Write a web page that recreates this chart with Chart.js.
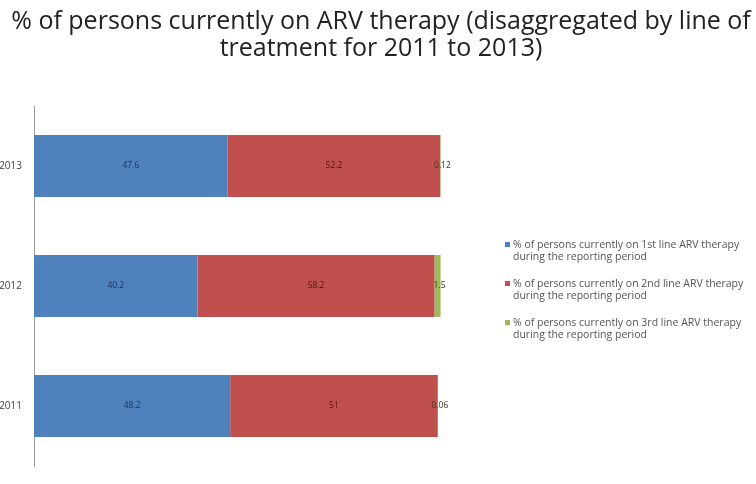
<!DOCTYPE html>
<html>
<head>
<meta charset="utf-8">
<script src="https://cdn.jsdelivr.net/npm/chart.js@4/dist/chart.umd.min.js"></script>
<style>
  html, body { margin: 0; padding: 0; background: #fff; }
  #wrap { position: relative; width: 756px; height: 484px; overflow: hidden; }
  #box { position: absolute; left: -17px; top: 0; width: 790px; height: 484px; }
  #legend { position: absolute; left: 505px; top: 238px; width: 260px; font-family: "Open Sans", sans-serif; font-size: 10.5px; color: #555; white-space: nowrap; }
  #legend .item { position: relative; padding-left: 8px; height: 39px; line-height: 12px; }
  #legend .sw { position: absolute; left: 0; top: 4px; width: 5px; height: 5px; }
</style>
</head>
<body>
<div id="wrap">
  <div id="box"><canvas id="chart"></canvas></div>
  <div id="legend"></div>
</div>
<script>
const years = ["2013", "2012", "2011"];

const firstLine = [47.6, 40.2, 48.2];
const secondLine = [52.2, 58.2, 51.0];
const thirdLine = [0.12, 1.5, 0.06];

const firstLabels = ["47.6", "40.2", "48.2"];
const secondLabels = ["52.2", "58.2", "51"];
const thirdLabels = ["0.12", "1.5", "0.06"];

const titleLines = ["% of persons currently on ARV therapy (disaggregated by line of", "treatment for 2011 to 2013)"];

const seriesNames = [
  ["% of persons currently on 1st line ARV therapy", "during the reporting period"],
  ["% of persons currently on 2nd line ARV therapy", "during the reporting period"],
  ["% of persons currently on 3rd line ARV therapy", "during the reporting period"]
];

const barLabels = {
  id: "barLabels",
  afterDatasetsDraw(chart) {
    const ctx = chart.ctx;
    ctx.save();
    ctx.font = "8.5px 'Open Sans', sans-serif";
    ctx.textAlign = "center";
    ctx.textBaseline = "middle";
    chart.data.datasets.forEach((ds, i) => {
      const meta = chart.getDatasetMeta(i);
      meta.data.forEach((bar, j) => {
        ctx.fillStyle = ds.labelColor;
        const x = (bar.x + bar.base) / 2 + (i === 2 ? 2 : 0);
        ctx.fillText(ds.valueLabels[j], x, bar.y);
      });
    });
    ctx.restore();
  }
};

// title drawn across the whole page, not just the plot box
const pageTitle = {
  id: "pageTitle",
  afterDraw(chart) {
    const ctx = chart.ctx;
    ctx.save();
    ctx.font = "25px 'Open Sans', sans-serif";
    ctx.fillStyle = "#222";
    ctx.textAlign = "center";
    ctx.textBaseline = "middle";
    titleLines.forEach((t, i) => ctx.fillText(t, 398, 22 + i * 27));
    ctx.restore();
  }
};

const chart = new Chart(document.getElementById("chart"), {
  type: "bar",
  data: {
    labels: years,
    datasets: [
      { label: seriesNames[0].join(" "), data: firstLine, valueLabels: firstLabels, backgroundColor: "#4F81BD", labelColor: "#1c3557" },
      { label: seriesNames[1].join(" "), data: secondLine, valueLabels: secondLabels, backgroundColor: "#C0504D", labelColor: "#4a1412" },
      { label: seriesNames[2].join(" "), data: thirdLine, valueLabels: thirdLabels, backgroundColor: "#9BBB59", labelColor: "#3a3a1a" }
    ]
  },
  options: {
    indexAxis: "y",
    responsive: true,
    maintainAspectRatio: false,
    animation: false,
    layout: { padding: { left: 0, right: 332, top: 106, bottom: 6 } },
    datasets: { bar: { categoryPercentage: 1, barPercentage: 0.516 } },
    scales: {
      x: { stacked: true, min: 0, max: 100, display: false },
      y: {
        stacked: true,
        afterFit: (s) => { s.width = 51; },
        grid: { display: true, drawOnChartArea: false, drawTicks: false },
        border: { display: true, color: "#999" },
        ticks: { padding: 12, color: "#444", font: { family: "'Open Sans', sans-serif", size: 10 } }
      }
    },
    plugins: {
      legend: { display: false },
      tooltip: { enabled: false },
      title: { display: false }
    }
  },
  plugins: [barLabels, pageTitle]
});

// legend built from the chart's datasets
const legendEl = document.getElementById("legend");
chart.data.datasets.forEach((ds, i) => {
  const item = document.createElement("div");
  item.className = "item";
  const sw = document.createElement("span");
  sw.className = "sw";
  sw.style.background = ds.backgroundColor;
  item.appendChild(sw);
  seriesNames[i].forEach((line) => {
    const d = document.createElement("div");
    d.textContent = line;
    item.appendChild(d);
  });
  legendEl.appendChild(item);
});
</script>
</body>
</html>
